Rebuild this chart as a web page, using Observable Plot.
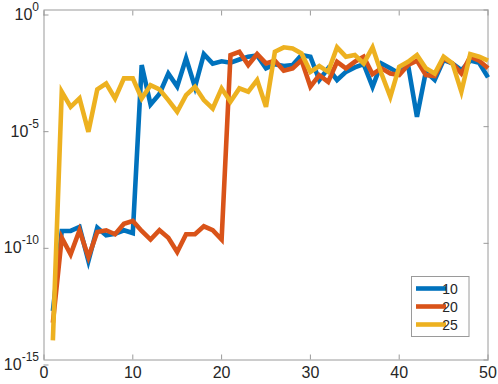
<!DOCTYPE html>
<html><head><meta charset="utf-8">
<script src="https://cdn.jsdelivr.net/npm/d3@7"></script>
<script src="https://cdn.jsdelivr.net/npm/@observablehq/plot@0.6"></script>
<style>html,body{margin:0;padding:0;background:#fff;} svg{display:block;}</style>
</head><body><div id="chart"></div>
<script>
// Series names (legend) and colours
const seriesNames = ["10", "20", "25"];
const seriesColors = ["#0072BD", "#D95319", "#EDB120"];

// x values
const iterations = [1,2,3,4,5,6,7,8,9,10,11,12,13,14,15,16,17,18,19,20,21,22,23,24,25,
  26,27,28,29,30,31,32,33,34,35,36,37,38,39,40,41,42,43,44,45,46,47,48,49,50];

// log10 of the plotted values
const log10Series10 = [-12.9,-9.47,-9.47,-9.3,-10.76,-9.33,-9.66,-9.59,-9.44,-9.56,
  -2.36,-4.05,-3.6,-2.72,-3.28,-2.07,-3.3,-1.89,-2.3,-2.2,
  -2.26,-2.12,-2.0,-1.95,-2.5,-2.32,-2.4,-2.36,-1.93,-2.0,
  -3.0,-2.5,-3.0,-2.65,-2.46,-2.32,-3.29,-2.29,-2.5,-2.72,
  -2.36,-4.58,-2.65,-3.0,-2.15,-2.29,-2.58,-2.17,-2.26,-2.89];
const log10Series20 = [-13.4,-9.76,-10.47,-9.44,-10.59,-9.51,-9.44,-9.61,-9.16,-9.04,
  -9.47,-9.84,-9.44,-9.76,-10.37,-9.61,-9.61,-9.27,-9.44,-9.84,
  -1.93,-1.79,-2.36,-1.89,-2.29,-2.17,-2.6,-2.5,-2.15,-3.29,
  -2.79,-3.08,-2.22,-2.5,-2.22,-2.0,-2.75,-2.5,-2.72,-2.79,
  -2.36,-2.17,-2.79,-2.83,-2.07,-2.29,-2.72,-2.0,-2.17,-2.5];
const log10Series25 = [-14.16,-3.5,-4.15,-3.79,-5.22,-3.4,-3.15,-3.79,-2.93,-2.93,
  -3.79,-3.22,-3.4,-3.86,-4.36,-3.65,-3.29,-3.86,-4.22,-3.36,
  -3.93,-3.36,-3.5,-3.0,-4.15,-1.79,-1.6,-1.65,-1.86,-2.65,
  -2.4,-2.65,-1.6,-2.0,-1.93,-2.29,-1.6,-2.72,-3.72,-2.43,
  -2.22,-1.93,-2.5,-2.72,-2.0,-2.29,-3.5,-1.89,-2.0,-2.17];

// tick labels
const xTicks = [0, 10, 20, 30, 40, 50];
const yTicks = [1e-15, 1e-10, 1e-5, 1];

const allLog = [log10Series10, log10Series20, log10Series25];
const table = seriesNames.flatMap((name, s) =>
  iterations.map((it, i) => ({series: name, x: it, y: Math.pow(10, allLog[s][i])})));

const axisGray = "#9a9a9a";
const textColor = "#262626";

const svg = Plot.plot({
  width: 498, height: 384,
  marginLeft: 43.5, marginRight: 10.5, marginTop: 9.5, marginBottom: 24.5,
  style: {fontFamily: "'Liberation Sans', Arial, sans-serif", fontSize: "16px", color: textColor, background: "#fff"},
  x: {domain: [0, 50]},
  y: {type: "log", domain: [1e-15, 1]},
  color: {domain: seriesNames, range: seriesColors},
  marks: [
    Plot.frame({stroke: axisGray}),
    Plot.axisX(xTicks, {anchor: "bottom", tickSize: -5, tickPadding: 11.5, label: null, stroke: axisGray, fill: textColor}),
    Plot.axisX(xTicks, {anchor: "top", tickSize: -5, label: null, stroke: axisGray, tickFormat: () => ""}),
    Plot.axisY(yTicks, {anchor: "left", tickSize: -5, tickPadding: 10, label: null, stroke: axisGray, fill: textColor,
      dy: 5, tickFormat: d => String(Math.round(Math.log10(d)))}),
    Plot.axisY(yTicks, {anchor: "right", tickSize: -5, label: null, stroke: axisGray, tickFormat: () => ""}),
    Plot.line(table, {x: "x", y: "y", z: "series", stroke: "series", strokeWidth: 4.6,
      strokeLinejoin: "miter", strokeLinecap: "butt", strokeMiterlimit: 4})
  ]
});

// superscript exponents on y tick labels
d3.select(svg).selectAll('g[aria-label="y-axis tick label"] text').each(function () {
  const t = d3.select(this);
  const exp = t.text();
  if (!exp) return;
  t.text("10");
  t.append("tspan").attr("dy", -9).attr("font-size", 12).text(exp);
});

// legend
const lg = d3.select(svg).append("g").attr("aria-label", "legend");
lg.append("rect").attr("x", 411.5).attr("y", 276.5).attr("width", 57.5).attr("height", 60)
  .attr("fill", "#fff").attr("stroke", axisGray);
seriesNames.forEach((name, i) => {
  const y = 288.5 + i * 18;
  lg.append("line").attr("x1", 416).attr("x2", 446).attr("y1", y).attr("y2", y)
    .attr("stroke", seriesColors[i]).attr("stroke-width", 4.6);
  lg.append("text").attr("x", 450).attr("y", y).attr("dy", "0.36em")
    .attr("font-size", 14).attr("fill", textColor).text(name);
});

document.getElementById("chart").appendChild(svg);
</script>
</body></html>
